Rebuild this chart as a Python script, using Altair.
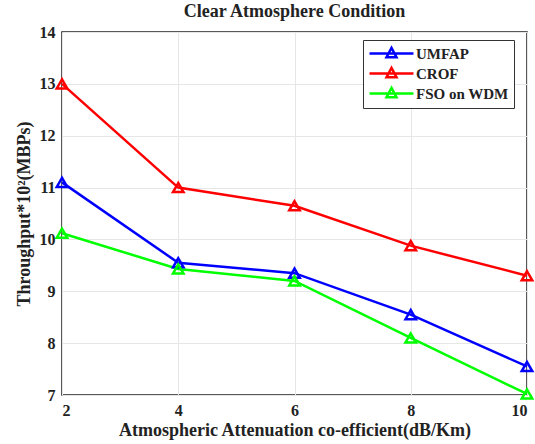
import altair as alt
import pandas as pd

x_vals = [2, 4, 6, 8, 10]
umfap = [11.1, 9.55, 9.35, 8.55, 7.55]
crof = [13.0, 11.0, 10.65, 9.88, 9.3]
fso = [10.12, 9.43, 9.2, 8.1, 7.02]
series_names = ["UMFAP", "CROF", "FSO on WDM"]
colors = ["#0000ff", "#ff0000", "#00ff00"]

rows = []
for name, vals in zip(series_names, [umfap, crof, fso]):
    for xv, yv in zip(x_vals, vals):
        rows.append({"x": xv, "y": yv, "series": name})
df = pd.DataFrame(rows)

FONT = "'Liberation Serif', 'Times New Roman', serif"

color_scale = alt.Scale(domain=series_names, range=colors)

base = alt.Chart(df).encode(
    x=alt.X("x:Q", scale=alt.Scale(domain=[2, 10], nice=False),
            axis=alt.Axis(title="Atmospheric Attenuation co-efficient(dB/Km)", values=x_vals,
                          grid=True, gridColor="#e6e6e6", tickSize=0, labelPadding=7,
                          titlePadding=3, domain=False)),
    y=alt.Y("y:Q", scale=alt.Scale(domain=[7, 14], nice=False),
            axis=alt.Axis(title="Throughput*10\u00b2(MBPs)", values=list(range(7, 15)),
                          grid=True, gridColor="#e6e6e6", tickSize=0, labelPadding=7,
                          titlePadding=6, domain=False)),
    color=alt.Color("series:N", scale=color_scale,
                    legend=alt.Legend(title=None, orient="none", legendX=301, legendY=8,
                                      symbolType="M-3.14,0H3.14M0,-0.8L0.71,0.54L-0.71,0.54Z",
                                      symbolSize=196, symbolStrokeWidth=2.5,
                                      symbolFillColor="transparent", symbolOffset=15,
                                      labelFont=FONT, labelFontSize=15, labelFontWeight="bold",
                                      labelColor="#222", rowPadding=-1,
                                      strokeColor="#333", fillColor="white",
                                      padding=5, labelOffset=16)),
)

lines = base.mark_line(strokeWidth=2.5)
points = base.mark_point(shape="triangle-up", filled=False, size=110, strokeWidth=2.5, opacity=1)

chart = (lines + points).properties(
    width=465, height=363,
    title=alt.TitleParams("Clear Atmosphere Condition", font=FONT, fontSize=18,
                          fontWeight="bold", color="#222", offset=3),
    autosize=alt.AutoSizeParams(type="none"),
    padding={"left": 62, "top": 32, "right": 8, "bottom": 49},
).configure_axis(
    labelFont=FONT, labelFontSize=16, labelFontWeight="bold", labelColor="#222",
    titleFont=FONT, titleFontSize=18, titleFontWeight="bold", titleColor="#222",
).configure_view(stroke="#222", strokeWidth=1.5)

chart.save("out.html", embed_options={"renderer": "svg", "actions": False})
